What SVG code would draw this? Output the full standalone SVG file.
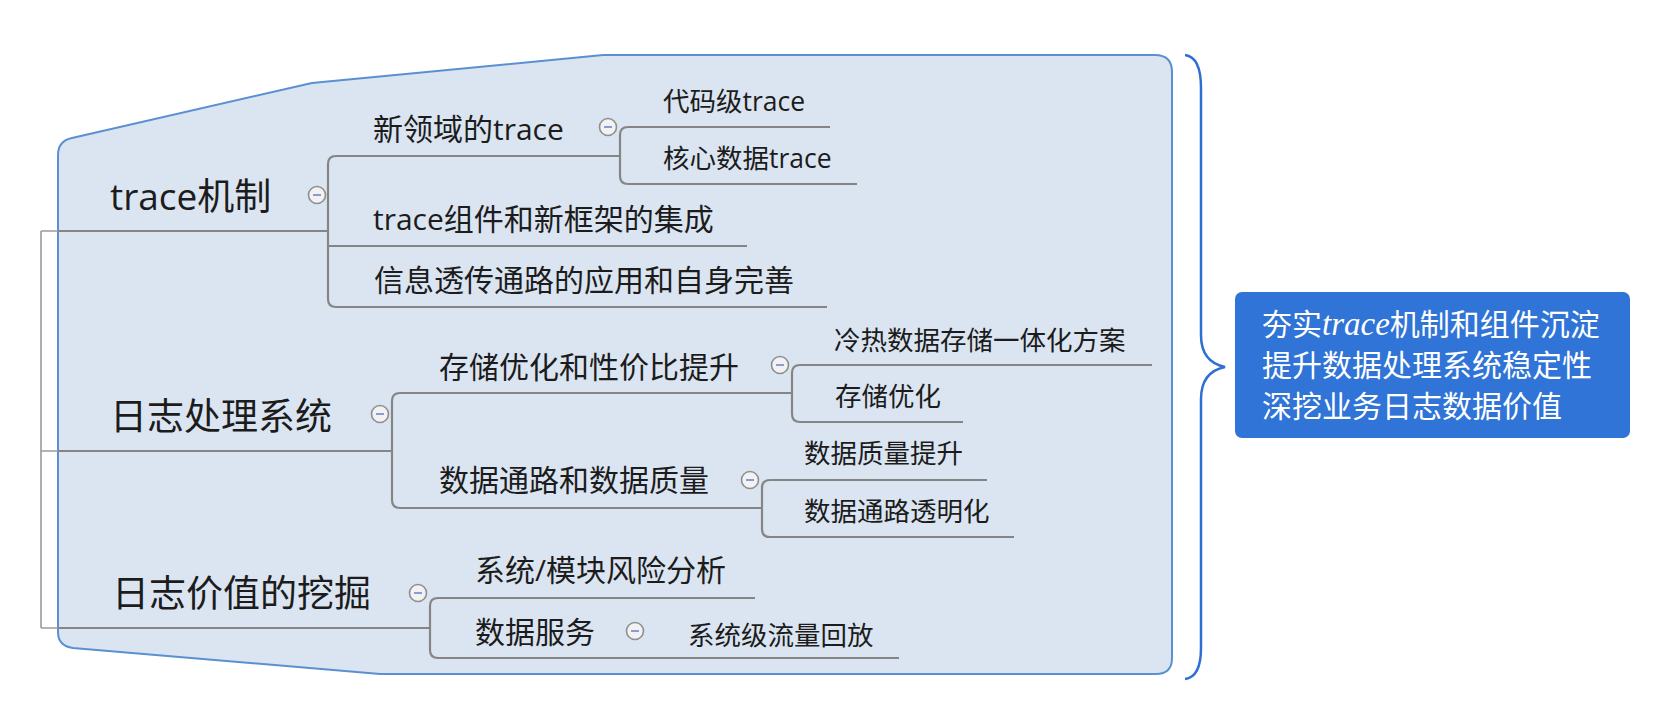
<svg xmlns="http://www.w3.org/2000/svg" width="1653" height="720" viewBox="0 0 1653 720">
<style>
.t{font-family:"Open Sans","Noto Sans CJK SC",sans-serif;fill:#1c1c1c}
.l1{font-size:37px}
.l2{font-size:30px}
.l3{font-size:26.5px}
.ln{fill:none;stroke:#858585;stroke-width:2.2}
.lo{fill:none;stroke:#9a9a9a;stroke-width:1.6}
.cc{fill:#f2f2f2;stroke:#8f8f8f;stroke-width:1.6}
.cm{stroke:#8b9bd6;stroke-width:2}
.bx{font-family:"Noto Sans CJK SC",sans-serif;font-size:30px;fill:#ffffff}
</style>
<rect width="1653" height="720" fill="#ffffff"/>
<g id="boundary">
<path d="M58,155 Q58,141 72,138 L312,83 L603,55 L1155,55 Q1172,55 1172,72 L1172,658 Q1172,674 1156,674 L380,674 L73,648 Q58,646 58,632 Z" fill="#dbe5f1" stroke="#5a90d2" stroke-width="2"/>
</g>
<g id="connectors">
<path class="lo" d="M41,231 V628 M41,231 H60 M41,451 H60 M41,628 H60"/>
<path class="ln" d="M58,231 H328 M58,451 H392 M58,628 H430"/>
<path class="ln" d="M620,156 H336 Q328,156 328,164 V299 Q328,307 336,307 H827 M328,246 H747"/>
<path class="ln" d="M830,127 H628 Q620,127 620,135 V176 Q620,184 628,184 H857"/>
<path class="ln" d="M792,393 H400 Q392,393 392,401 V500 Q392,508 400,508 H762"/>
<path class="ln" d="M1152,365 H800 Q792,365 792,373 V414 Q792,422 800,422 H963"/>
<path class="ln" d="M987,480 H770 Q762,480 762,488 V529 Q762,537 770,537 H1014"/>
<path class="ln" d="M755,598 H438 Q430,598 430,606 V650 Q430,658 438,658 H899"/>
</g>
<g id="n-trace">
<text class="t l1" x="110" y="210">trace机制</text>
<circle class="cc" cx="317" cy="195" r="8.5"/><line class="cm" x1="313" y1="195" x2="321" y2="195"/>
</g>
<g id="n-newtrace">
<text class="t l2" x="373" y="140">新领域的trace</text>
<circle class="cc" cx="608" cy="127" r="8.5"/><line class="cm" x1="604" y1="127" x2="612" y2="127"/>
</g>
<g id="n-codetrace"><text class="t l3" x="663" y="111">代码级trace</text></g>
<g id="n-coretrace"><text class="t l3" x="663" y="168">核心数据trace</text></g>
<g id="n-integration"><text class="t l2" x="373" y="230">trace组件和新框架的集成</text></g>
<g id="n-passthrough"><text class="t l2" x="374" y="291">信息透传通路的应用和自身完善</text></g>
<g id="n-logsys">
<text class="t l1" x="110" y="430">日志处理系统</text>
<circle class="cc" cx="380" cy="414" r="8.5"/><line class="cm" x1="376" y1="414" x2="384" y2="414"/>
</g>
<g id="n-storage">
<text class="t l2" x="439" y="378">存储优化和性价比提升</text>
<circle class="cc" cx="780" cy="365" r="8.5"/><line class="cm" x1="776" y1="365" x2="784" y2="365"/>
</g>
<g id="n-coldhot"><text class="t l3" x="834" y="350">冷热数据存储一体化方案</text></g>
<g id="n-storeopt"><text class="t l3" x="835" y="406">存储优化</text></g>
<g id="n-datapath">
<text class="t l2" x="439" y="491">数据通路和数据质量</text>
<circle class="cc" cx="750" cy="480" r="8.5"/><line class="cm" x1="746" y1="480" x2="754" y2="480"/>
</g>
<g id="n-quality"><text class="t l3" x="804" y="463">数据质量提升</text></g>
<g id="n-transparent"><text class="t l3" x="804" y="521">数据通路透明化</text></g>
<g id="n-value">
<text class="t l1" x="112" y="607">日志价值的挖掘</text>
<circle class="cc" cx="418" cy="593" r="8.5"/><line class="cm" x1="414" y1="593" x2="422" y2="593"/>
</g>
<g id="n-risk"><text class="t l2" x="475" y="581">系统/模块风险分析</text></g>
<g id="n-dataservice">
<text class="t l2" x="475" y="643">数据服务</text>
<circle class="cc" cx="635" cy="631" r="8.5"/><line class="cm" x1="631" y1="631" x2="639" y2="631"/>
</g>
<g id="n-replay"><text class="t l3" x="688" y="645">系统级流量回放</text></g>
<g id="brace">
<path d="M1185,55 Q1201,57 1201,88 L1201,335 Q1201,362 1225,367 Q1201,372 1201,399 L1201,648 Q1201,677 1185,679" fill="none" stroke="#2f6fd4" stroke-width="2.5"/>
</g>
<g id="summary">
<rect x="1235" y="292" width="395" height="146" rx="7" fill="#2f74d6"/>
<text class="bx" x="1262" y="335">夯实<tspan font-family="Liberation Serif,serif" font-style="italic" font-size="33">trace</tspan>机制和组件沉淀</text>
<text class="bx" x="1262" y="376">提升数据处理系统稳定性</text>
<text class="bx" x="1262" y="417">深挖业务日志数据价值</text>
</g>
</svg>
